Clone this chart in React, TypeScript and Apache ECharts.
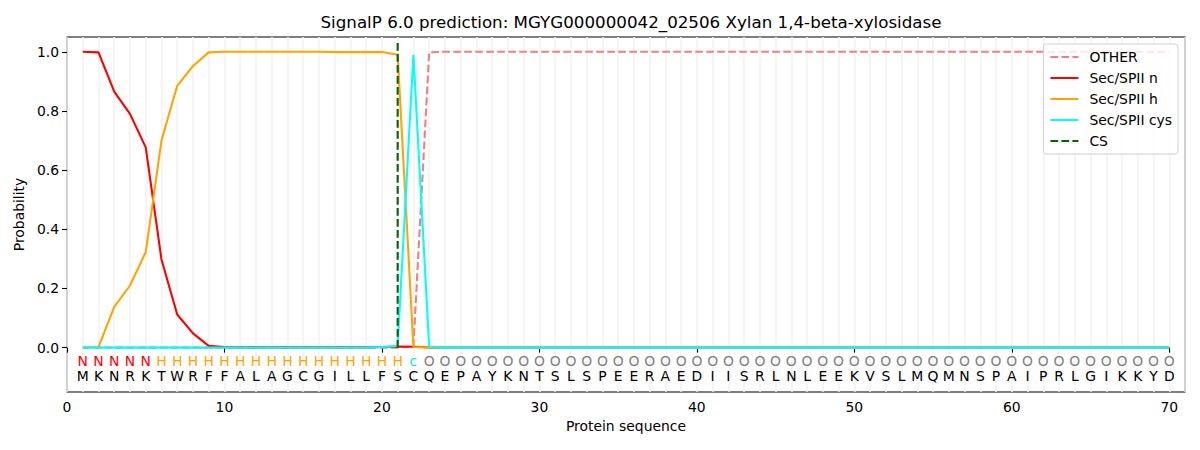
import React, { useEffect, useRef } from "react";
import * as echarts from "echarts";

const TITLE = "SignalP 6.0 prediction: MGYG000000042_02506 Xylan 1,4-beta-xylosidase";
const residues = "MKNRKTWRFFALAGCGILLFSCQEPAYKNTSLSPEERAEDIISRLNLEEKVSLMQMNSPAIPRLGIKKYD".split("");
const classes = "NNNNNHHHHHHHHHHHHHHHHcOOOOOOOOOOOOOOOOOOOOOOOOOOOOOOOOOOOOOOOOOOOOOOOO".split("");
const classColors: Record<string, string> = { N: "#ff0000", H: "#ffa500", c: "#00e5ee", O: "#808080" };

const otherP = [
  0, 0, 0, 0, 0, 0, 0, 0, 0, 0,
  0, 0, 0, 0, 0, 0, 0, 0, 0, 0,
  0, 0.005, 0.998, 1, 1, 1, 1, 1, 1, 1,
  1, 1, 1, 1, 1, 1, 1, 1, 1, 1,
  1, 1, 1, 1, 1, 1, 1, 1, 1, 1,
  1, 1, 1, 1, 1, 1, 1, 1, 1, 1,
  1, 1, 1, 1, 1, 1, 1, 1, 1, 1,
];
const nP = [
  1.0, 0.998, 0.865, 0.79, 0.677, 0.298, 0.112, 0.048, 0.006, 0.002,
  0.001, 0.001, 0.001, 0.001, 0.001, 0.001, 0.001, 0.001, 0.001, 0.002,
  0.004, 0.003, 0.001, 0, 0, 0, 0, 0, 0, 0,
  0, 0, 0, 0, 0, 0, 0, 0, 0, 0,
  0, 0, 0, 0, 0, 0, 0, 0, 0, 0,
  0, 0, 0, 0, 0, 0, 0, 0, 0, 0,
  0, 0, 0, 0, 0, 0, 0, 0, 0, 0,
];
const hP = [
  0.0, 0.002, 0.138, 0.21, 0.323, 0.7, 0.885, 0.952, 0.998, 1.0,
  1, 1, 1, 1, 1, 1, 0.999, 0.999, 0.999, 0.999,
  0.99, 0.002, 0.001, 0, 0, 0, 0, 0, 0, 0,
  0, 0, 0, 0, 0, 0, 0, 0, 0, 0,
  0, 0, 0, 0, 0, 0, 0, 0, 0, 0,
  0, 0, 0, 0, 0, 0, 0, 0, 0, 0,
  0, 0, 0, 0, 0, 0, 0, 0, 0, 0,
];
const cysP = [
  0, 0, 0, 0, 0, 0, 0, 0, 0, 0,
  0, 0, 0, 0, 0, 0, 0, 0, 0, 0.002,
  0.006, 0.99, 0.002, 0, 0, 0, 0, 0, 0, 0,
  0, 0, 0, 0, 0, 0, 0, 0, 0, 0,
  0, 0, 0, 0, 0, 0, 0, 0, 0, 0,
  0, 0, 0, 0, 0, 0, 0, 0, 0, 0,
  0, 0, 0, 0, 0, 0, 0, 0, 0, 0,
];
const csPos = 21;
const csTop = 1.035;
const xTicks = [0, 10, 20, 30, 40, 50, 60, 70];
const yTicks = [0, 0.2, 0.4, 0.6, 0.8, 1.0];
const classRowY = -0.045;
const residueRowY = -0.095;

const FONT = "DejaVu Sans";

export default function App() {
  const ref = useRef<HTMLDivElement>(null);
  useEffect(() => {
    if (!ref.current) return;
    const chart = echarts.init(ref.current, undefined, { renderer: "svg" });
    const toXY = (arr: number[]) => arr.map((v, i) => [i + 1, v]);
    const labelData: any[] = [];
    residues.forEach((r, i) => {
      labelData.push([i + 1, classRowY, 0, i]);
      labelData.push([i + 1, residueRowY, 1, i]);
    });
    const lw = 2.1;
    const dash = [7.7, 3.3];
    chart.setOption({
      animation: false,
      textStyle: { fontFamily: FONT },
      title: {
        text: TITLE,
        left: 626,
        textAlign: "center",
        top: 8,
        textStyle: { fontFamily: FONT, fontSize: 16.7, fontWeight: "normal", color: "#000" },
      },
      grid: {
        left: 67,
        right: 15,
        top: 37,
        bottom: 58,
        show: true,
        borderColor: "#000",
        borderWidth: 1.1,
        backgroundColor: "transparent",
      },
      legend: {
        data: ["OTHER", "Sec/SPII n", "Sec/SPII h", "Sec/SPII cys", "CS"],
        orient: "vertical",
        right: 22,
        top: 44,
        itemWidth: 28,
        itemHeight: 14,
        itemGap: 7,
        padding: [6, 6, 6, 6],
        backgroundColor: "rgba(255,255,255,0.8)",
        borderColor: "#d0d0d0",
        borderWidth: 1,
        borderRadius: 3,
        itemStyle: { opacity: 0 },
        textStyle: { fontFamily: FONT, fontSize: 13.9, color: "#000", padding: [0, 0, 0, 6] },
      },
      xAxis: [
        {
          type: "value",
          min: 0,
          max: 71,
          name: "Protein sequence",
          nameLocation: "middle",
          nameGap: 27,
          nameTextStyle: { fontFamily: FONT, fontSize: 13.9, color: "#000" },
          axisLine: { show: false },
          axisTick: { show: true, customValues: xTicks, length: 5, lineStyle: { color: "#000", width: 1.1 } },
          axisLabel: { customValues: xTicks, margin: 8, fontFamily: FONT, fontSize: 13.9, color: "#000" },
          splitLine: { show: false },
        },
        {
          type: "value",
          min: 0,
          max: 71,
          interval: 1,
          position: "top",
          axisLine: { show: false },
          axisTick: { show: false },
          axisLabel: { show: false },
          splitLine: { show: true, lineStyle: { color: "#f2f2f2", width: 1.5 } },
        },
      ],
      yAxis: {
        type: "value",
        min: -0.15,
        max: 1.05,
        name: "Probability",
        nameLocation: "middle",
        nameGap: 37,
        nameTextStyle: { fontFamily: FONT, fontSize: 13.9, color: "#000" },
        axisLine: { show: false },
        axisTick: { show: true, customValues: yTicks, length: 5, lineStyle: { color: "#000", width: 1.1 } },
        axisLabel: {
          customValues: yTicks,
          margin: 8,
          fontFamily: FONT,
          fontSize: 13.9,
          color: "#000",
          formatter: (v: number) => v.toFixed(1),
        },
        splitLine: { show: false },
      },
      series: [
        {
          name: "OTHER",
          type: "line",
          data: toXY(otherP),
          symbol: "none",
          lineStyle: { color: "#f08080", width: lw, type: dash },
          itemStyle: { color: "#f08080" },
          z: 2,
        },
        {
          name: "Sec/SPII n",
          type: "line",
          data: toXY(nP),
          symbol: "none",
          lineStyle: { color: "#ff0000", width: lw },
          itemStyle: { color: "#ff0000" },
          z: 3,
        },
        {
          name: "Sec/SPII h",
          type: "line",
          data: toXY(hP),
          symbol: "none",
          lineStyle: { color: "#ffa500", width: lw },
          itemStyle: { color: "#ffa500" },
          z: 3,
        },
        {
          name: "Sec/SPII cys",
          type: "line",
          data: toXY(cysP),
          symbol: "none",
          lineStyle: { color: "#00ffff", width: lw },
          itemStyle: { color: "#00ffff" },
          z: 3,
        },
        {
          name: "CS",
          type: "line",
          data: [
            [csPos, 0],
            [csPos, csTop],
          ],
          symbol: "none",
          lineStyle: { color: "#006400", width: lw, type: dash },
          itemStyle: { color: "#006400" },
          z: 4,
        },
        {
          type: "custom",
          silent: true,
          clip: false,
          z: 5,
          data: labelData,
          renderItem: (params: any, api: any) => {
            const p = api.coord([api.value(0), api.value(1)]);
            const row = api.value(2);
            const idx = api.value(3);
            const text = row === 0 ? classes[idx] : residues[idx];
            const fill = row === 0 ? classColors[classes[idx]] : "#000";
            return {
              type: "text",
              x: p[0],
              y: p[1],
              style: {
                text,
                fill,
                fontFamily: FONT,
                fontSize: 13.9,
                align: "center",
                verticalAlign: "middle",
              },
            };
          },
        },
      ],
    });
    return () => chart.dispose();
  }, []);
  return (
    <div
      ref={ref}
      style={{ position: "absolute", left: 0, top: 0, width: 1200, height: 450, background: "#fff" }}
    />
  );
}
